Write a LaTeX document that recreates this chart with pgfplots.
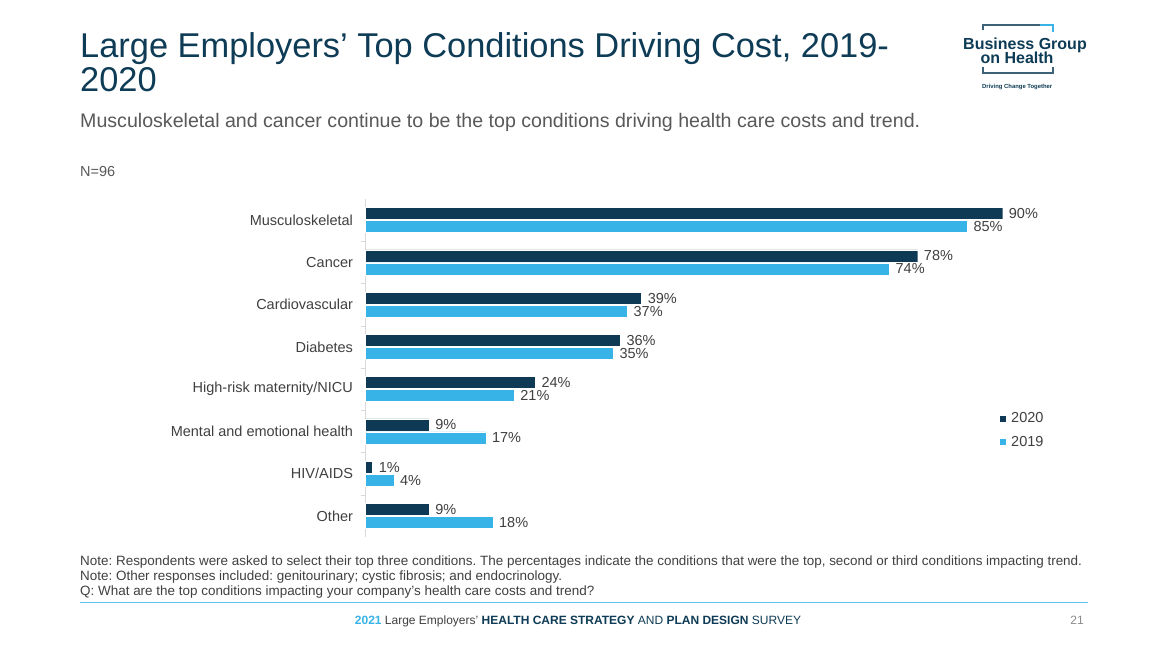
\documentclass[border=0pt]{standalone}
\usepackage{pgfplots}
\pgfplotsset{compat=1.18}
\usepackage{fontspec}
\setmainfont{Liberation Sans}
\frenchspacing
\definecolor{navy}{RGB}{15,58,85}
\definecolor{sky}{RGB}{56,179,231}
\definecolor{titlec}{RGB}{14,59,85}
\definecolor{txt}{RGB}{64,64,64}
\definecolor{subc}{RGB}{89,89,89}
\definecolor{linec}{RGB}{91,196,238}
\newcommand{\fs}[1]{\fontsize{#1pt}{#1pt}\selectfont}
\begin{document}
\begin{tikzpicture}[x=1pt,y=1pt]
\path[use as bounding box,fill=white] (0,0) rectangle (1156,645);
% title
\node[anchor=base west,inner sep=0,text=titlec,font=\fs{34.4}] at (80,645-58) {Large Employers’ Top Conditions Driving Cost, 2019-};
\node[anchor=base west,inner sep=0,text=titlec,font=\fs{34.4}] at (80,645-92) {2020};
\node[anchor=base west,inner sep=0,text=subc,font=\fs{19.6}] at (80,645-128) {Musculoskeletal and cancer continue to be the top conditions driving health care costs and trend.};
\node[anchor=base west,inner sep=0,text=subc,font=\fs{14.5}] at (80,645-177) {N=96};
% logo
\draw[titlec!80,line width=1.6] (983,645-30) -- (983,645-25) -- (1040,645-25);
\draw[sky,line width=1.6] (1040,645-25) -- (1053,645-25) -- (1053,645-32);
\draw[titlec!80,line width=1.6] (983,645-67) -- (983,645-73) -- (1053,645-73) -- (1053,645-67);
\node[anchor=base,inner sep=0,text=titlec,font=\fs{16}\bfseries] at (1025,645-50) {Business Group};
\node[anchor=base,inner sep=0,text=titlec,font=\fs{16}\bfseries] at (1017,645-64) {on Health};
\node[anchor=base west,inner sep=0,text=titlec,font=\fs{5.9}\bfseries] at (982,645-89) {Driving Change Together};
% notes
\node[anchor=base west,inner sep=0,text=txt,font=\fs{13.45}] at (80,645-566) {Note: Respondents were asked to select their top three conditions. The percentages indicate the conditions that were the top, second or third conditions impacting trend.};
\node[anchor=base west,inner sep=0,text=txt,font=\fs{13.45}] at (80,645-581) {Note: Other responses included: genitourinary; cystic fibrosis; and endocrinology.};
\node[anchor=base west,inner sep=0,text=txt,font=\fs{13.45}] at (80,645-596) {Q: What are the top conditions impacting your company’s health care costs and trend?};
\draw[linec,line width=1] (80,645-603) -- (1088,645-603);
\node[anchor=base,inner sep=0,font=\fs{12}] at (578,645-625) {\textcolor{sky}{\bfseries 2021} \textcolor{txt}{Large Employers’} \textcolor{titlec}{\bfseries HEALTH CARE STRATEGY} \textcolor{titlec}{AND} \textcolor{titlec}{\bfseries PLAN DESIGN} \textcolor{titlec}{SURVEY}};
\node[anchor=base east,inner sep=0,text=black!45,font=\fs{12}] at (1084,645-625) {21};
% chart
\begin{axis}[
  at={(365.5pt,108pt)}, anchor=south west,
  scale only axis, width=708pt, height=338pt,
  xmin=0, xmax=100, ymin=-0.5, ymax=7.5,
  xbar, bar width=12pt,
  hide x axis,
  axis y line*=left,
  y axis line style={draw=black!15,-},
  ytick={0,...,7},
  yticklabels={Other,HIV/AIDS,Mental and emotional health,High-risk maternity/NICU,Diabetes,Cardiovascular,Cancer,Musculoskeletal},
  yticklabel style={font=\fs{14.5},text=txt,xshift=-9pt},
  major tick length=0pt,
  tick style={draw=black!15},
  extra y ticks={0.5,1.5,...,6.5},
  extra y tick labels={},
  extra y tick style={major tick length=5pt, tick align=outside},
  clip=false,
  nodes near coords={\pgfmathprintnumber{\pgfplotspointmeta}\%},
  nodes near coords style={font=\fs{14.5},text=txt,inner sep=0pt,xshift=6pt},
  /pgf/number format/assume math mode=true,
  point meta=x,
  legend style={at={(0.892,0.38)},anchor=north west,draw=none,fill=none,font=\fs{14.5},text=txt,row sep=8pt,
     /tikz/every even column/.append style={column sep=2pt}},
  legend cell align=left,
  legend image code/.code={\fill[#1,draw=none] (0pt,-3pt) rectangle (6pt,3pt);},
]
\addplot[fill=navy,draw=white,line width=0.4pt,bar shift=6.5pt] coordinates {
 (9,0) (1,1) (9,2) (24,3) (36,4) (39,5) (78,6) (90,7)};
\addplot[fill=sky,draw=white,line width=0.4pt,bar shift=-6.5pt] coordinates {
 (18,0) (4,1) (17,2) (21,3) (35,4) (37,5) (74,6) (85,7)};
\legend{\hspace{3pt}2020,\hspace{3pt}2019}
\end{axis}
\end{tikzpicture}
\end{document}
